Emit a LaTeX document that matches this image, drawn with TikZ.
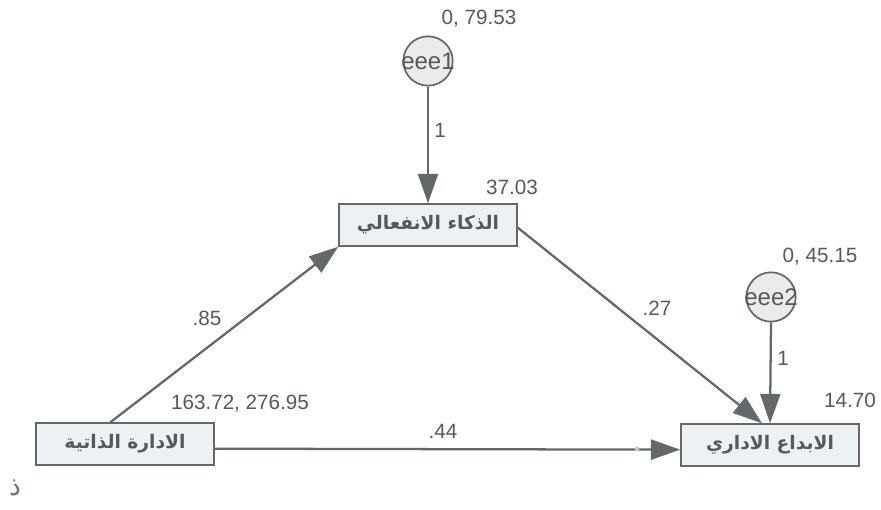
\documentclass[tikz,border=0pt]{standalone}
\usepackage{fontspec}
\setmainfont{Liberation Sans}
\newfontfamily\arabicfont[Script=Arabic]{DejaVu Sans}
\TeXXeTstate=1
\usetikzlibrary{arrows.meta,calc}

\definecolor{ink}{HTML}{55595B}
\definecolor{edge}{HTML}{63686A}
\definecolor{boxfill}{HTML}{EEF1F3}
\definecolor{errfill}{HTML}{E9EBEC}

\tikzset{
  var/.style={draw=edge, line width=1.6pt, fill=boxfill, minimum width=133pt,
    minimum height=31pt, inner sep=0pt, text=ink,
    font=\arabicfont\bfseries\fontsize{14}{16}\selectfont},
  err/.style={circle, draw=edge, line width=1.3pt, fill=errfill,
    minimum size=37pt, inner sep=0pt},
  errlab/.style={text=ink, font=\fontsize{18}{20}\selectfont},
  num/.style={text=ink, font=\fontsize{15.5}{18}\selectfont, inner sep=0pt},
  path/.style={draw=edge, line width=1.7pt,
    -{Triangle[length=22pt,width=15pt,fill=edge]}}
}

\begin{document}
\begin{tikzpicture}[x=0.75pt,y=-0.75pt]
\path[use as bounding box] (0,0) rectangle (881,510);

% observed variables
\node[var] (mid) at (428,225) {\beginR الذكاء الانفعالي\endR};
\node[var] (ld)  at (125,444) {\beginR الادارة الذاتية\endR};
\node[var] (rb)  at (770,445) {\beginR الابداع الاداري\endR};

% error terms
\node[err] (e1) at (428,61) {};
\node[errlab] at (e1) {eee1};
\node[err] (e2) at (771,297) {};
\node[errlab] at (e2) {eee2};

% regression paths
\draw[path] (e1.south) -- (mid.north);
\draw[path] (e2.south) -- (rb.north);
\draw[path] ([xshift=-11pt]ld.north) -- (mid.south west);
\draw[path] ([yshift=-2pt]mid.east) -- ([xshift=-6pt]rb.north);
\draw[path] ([yshift=-3.5pt]ld.east) -- ([yshift=-3.5pt]rb.west);
\fill[gray!45] (637,449) circle (1.8pt);

% estimates
\node[num] at (479,19)  {0, 79.53};
\node[num] at (440,130) {1};
\node[num] at (512,187) {37.03};
\node[num] at (207,318) {.85};
\node[num] at (657,308) {.27};
\node[num] at (240,404) {163.72, 276.95};
\node[num] at (443,431) {.44};
\node[num] at (820,257) {0, 45.15};
\node[num] at (783,358) {1};
\node[num] at (850,400) {14.70};

% stray letter
\node[text=ink!85, font=\arabicfont\fontsize{20}{22}\selectfont] at (15,488) {\beginR ذ\endR};
\end{tikzpicture}
\end{document}
